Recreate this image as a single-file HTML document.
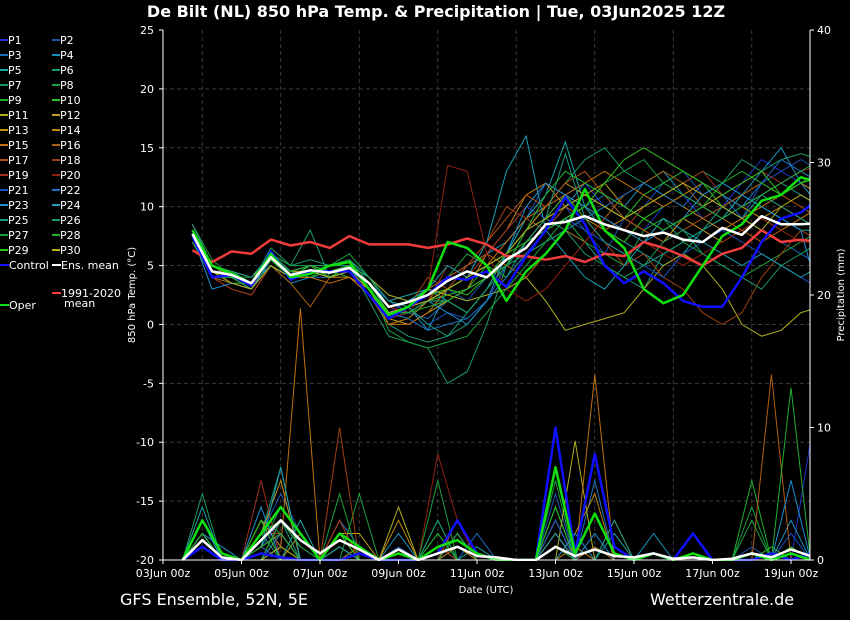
<!DOCTYPE html>
<html><head><meta charset="utf-8"><style>
body{margin:0;background:#000;width:850px;height:620px;overflow:hidden;font-family:"Liberation Sans","DejaVu Sans",sans-serif}
svg{display:block}
</style></head><body>
<svg id="c" width="850" height="620" xmlns="http://www.w3.org/2000/svg">
<rect width="850" height="620" fill="#000"/>
<text x="436" y="17" fill="#fff" font-size="16" font-weight="bold" text-anchor="middle" font-family="DejaVu Sans, sans-serif">De Bilt  (NL)  850 hPa Temp. &amp; Precipitation | Tue, 03Jun2025 12Z</text>
<text x="120" y="605" fill="#fff" font-size="16" font-family="DejaVu Sans, sans-serif">GFS Ensemble, 52N, 5E</text>
<text x="650" y="605" fill="#fff" font-size="16" font-family="DejaVu Sans, sans-serif">Wetterzentrale.de</text>
<g id="grid"></g>
<g id="series" clip-path="url(#clip)"></g>
<defs><clipPath id="clip"><rect x="163" y="30" width="647" height="531"/></clipPath></defs>
<g id="axes"></g>
<g id="legend"></g>
</svg>
<script>
const NS="http://www.w3.org/2000/svg";
const dayLabels=["03Jun 00z","05Jun 00z","07Jun 00z","09Jun 00z","11Jun 00z","13Jun 00z","15Jun 00z","17Jun 00z","19Jun 00z"];
const tempTicks=[25,20,15,10,5,0,-5,-10,-15,-20];
const precipTicks=[0,10,20,30,40];
const hours=[18,30,42,54,66,78,90,102,114,126,138,150,162,174,186,198,210,222,234,246,258,270,282,294,306,318,330,342,354,366,378,390,402];
const precipHours=[12,24,36,48,60,72,84,96,108,120,132,144,156,168,180,192,204,216,228,240,252,264,276,288,300,312,324,336,348,360,372,384,396];
const ensMean=[7.7,4.5,4.2,3.5,5.7,4.2,4.6,4.4,4.8,3.5,1.5,1.9,2.5,3.7,4.5,4.0,5.5,6.5,8.5,8.7,9.2,8.5,8.0,7.5,7.8,7.2,7.0,8.2,7.6,9.2,8.5,8.5,8.6];
const control=[7.5,4,4.2,3.3,6.2,3.8,4.5,4.5,4.5,2.5,0.5,1.5,2.5,4,3.8,4.5,3.2,5.8,8,10.8,8.5,5,3.5,4.5,3.5,2,1.5,1.5,4,7,9,9.5,10.8];
const oper=[8,5,4.3,3.5,6,4,4.3,5,5.3,3,0.8,1.5,3,7,6.5,5,2,4.5,6,8,11.5,8,6.5,3,1.8,2.5,5,7.5,8.5,10.5,11,12.5,12];
const clim=[6.3,5.3,6.2,6,7.2,6.7,7,6.5,7.5,6.8,6.8,6.8,6.5,6.8,7.3,6.8,5.8,5.8,5.5,5.8,5.3,6,5.8,7,6.5,5.8,5,6,6.5,8,7,7.2,7];
const P1=[8,5,4,3.5,6,4,4.5,4,5,3.5,1,2,3,4,5,6,8,10,9,11,12,10,9,8,10,11,9,10,12,14,13,12,11];
const P2=[7.5,4,4,3,5.5,4,5,4.5,4.5,3,0.5,1,2,3,2,4,6,9,12,10,8,6,9,10,12,13,11,10,9,12,13,14,13];
const P3=[8,4.5,4.5,4,6,4.5,4,4,5,4,2,1,0.5,2,1,3,5,7,8,9,10,11,9,8,7,9,10,11,9,8,7,6,5];
const P4=[8.5,5,4,3.5,5,3.5,4,4.5,4.5,3,1,1.5,-0.5,3,5,6,7,9,8,10,12,11,10,12,13,11,10,9,11,13,15,12,10];
const P5=[7,4,3.5,3,5,4,5,5,5.5,4,2,2.5,3,2,1,3,6,9,11,15.5,10,8,7,6,5,6,8,9,11,10,9,8,8];
const P6=[7.5,4.5,4,3,6,5,5.5,5,5,3,0,-1,-1.5,-1,0,2,4,7,9,8,7,5,4,3,6,7,8,9,10,11,12,11,10];
const P7=[8,5,4.5,3.5,6.5,5,8,4,5,2,-1,-1.5,-2,-5,-4,0,5,8,10,12,14,15,13,12,11,12,13,12,14,13,14,14.5,14];
const P8=[8.5,5.5,4,4,5.5,4.5,4,5,6,4,1.5,2,3,4,6,5,4,6,8,9,7,6,5,8,9,7,6,5,4,5,6,7,8];
const P9=[7,4,4,3.5,5,4,4,4.5,4,3,1,1.5,2,2.5,3,5,4,6,7,8,9,10,9,11,12,13,12,11,10,11,12,13,12];
const P10=[7.5,4.5,3.5,3.5,5,4,5,4,4.5,3.5,1,0.5,2,3,2.5,4,6,8,9,11,9,8,7,9,10,11,12,10,11,12,11,12,13];
const P11=[8,5,4.5,4,5.5,4,4.5,4.5,5,4,2.5,2,3,2.5,2,2.5,3,4,2,-0.5,0,0.5,1,3,5,6,5,3,0,-1,-0.5,1,1.5];
const P12=[7,4.5,4,3,5.5,4.5,4.5,4,4.5,3,0.5,0,1,2,3,4,5,7,9,10,11,12,10,9,8,9,10,11,10,9,8,9,10];
const P13=[8,5,4,3.5,6,4.5,5,4.5,5,3.5,1.5,1,2,3,4,5,6,8,10,12,11,10,9,8,7,9,8,7,8,9,10,9,8];
const P14=[7.5,4,3,2.5,5,4,4.5,4,4,3,0,0.5,2,2,3,6,8,11,12,10,9,8,9,10,11,10,9,8,9,10,11,12,11];
const P15=[8,4.5,4,3.5,5.5,4,4,3.5,4,2.5,0,0,1,3,4,5,7,9,10,11,12,13,12,11,10,11,12,11,10,11,12,13,12];
const P16=[7,4,3.5,3,5,3.5,1.5,4,4.5,3,1,1.5,2,4,5,6,5,4,6,8,7,9,11,12,13,12,10,9,8,7,8,9,10];
const P17=[8.5,5,4,3.5,6,4.5,5,4.5,5,3.5,1,1.5,3,4,5,7,9,11,10,12,13,11,9,8,7,8,9,10,11,12,11,10,9];
const P18=[7.5,4.5,3.5,3,6,4,4.5,4,4.5,3,0.5,1.5,4,3,5,7,10,9,8,10,9,7,5,6,4,3,1,0,1,4,6,8,7];
const P19=[7,4,3,2.5,5,4,4.5,4,4.5,3,0.5,1,2,5,4,6,8,10,12,11,10,9,8,10,11,12,13,11,12,13,12,13,13.5];
const P20=[8,4.5,4,3.5,5.5,4.5,5,4.5,5,3.5,1.5,1,3,13.5,13,6,3,2,3,5,7,9,8,7,6,5,6,7,8,9,8,7,7];
const P21=[7.5,5,4.5,4,6,4.5,5,4.5,5,3.5,2,1.5,0,1,0.5,2,5,6,8,9,8,7,6,5,4,6,7,8,7,6,5,4,3];
const P22=[8,4.5,4,3.5,5.5,4,4.5,4.5,5,3,1,0.5,-0.5,0,0.5,2,4,6,7,8,9,10,11,12,11,10,12,11,10,12,14,13,12];
const P23=[7.5,3,3.5,3,5.5,4,4.5,4,4.5,3.5,1,1,2,1,0,2,6,10,12,11,10,9,8,7,8,9,11,12,11,10,9,8,2];
const P24=[8,4.5,4,3.5,5,4,4.5,4.5,5,3.5,1.5,2,3,5,4,7,13,16,8,6,4,3,5,7,9,8,7,6,5,6,5,4,5];
const P25=[8.5,5,4.5,4,6,4.5,5,4.5,5,4,2,1.5,0,-1,1,3,5,7,9,14.5,9,7,6,5,6,7,8,10,9,11,10,9,8];
const P26=[7,4,4,3,5,4,4.5,4,4.5,3,1,1,2,2,1,3,5,6,7,8,6,5,4,5,7,8,6,5,4,3,5,6,7];
const P27=[8,5,4.5,3.5,6,5,5,5,5.5,3.5,-0.5,-1.5,-2,-1.5,-1,1,3,5,7,9,10,12,13,14,12,11,10,9,10,11,12,13,14];
const P28=[7.5,4.5,4,3.5,5.5,4.5,5,4.5,5,3.5,1,1,1.5,2,3,4,5,8,11,13,12,11,10,9,8,9,10,12,13,12,11,12,13];
const P29=[8,4.5,4,3.5,5.5,4,4.5,4,5,3,0.5,1.5,2.5,3,4,5,6,7,8,9,10,12,14,15,14,13,12,11,12,13,11,12,12.5];
const P30=[7.5,4.5,3.5,3,5,4,4.5,4,4.5,3,1,1.5,2,3,4,5,6,8,9,10,11,10,9,10,11,12,11,10,9,8,10,11,10];
const members=[P1,P2,P3,P4,P5,P6,P7,P8,P9,P10,P11,P12,P13,P14,P15,P16,P17,P18,P19,P20,P21,P22,P23,P24,P25,P26,P27,P28,P29,P30];
const meanPrecip=[0,1.5,0.2,0,1.5,3,1.5,0.5,1.5,0.8,0,0.8,0,0.5,1,0.3,0.2,0,0,1,0.3,0.8,0.3,0.2,0.5,0.1,0.2,0,0.1,0.5,0.2,0.8,0.3];
const controlPrecip=[0,1,0,0,0.5,0.2,0,0,0,0.5,0,0,0,0.5,3,0.5,0,0,0,10,0.5,8,1,0,0.5,0,2,0,0,0,0.5,0,0.5];
const operPrecip=[0,3,0.5,0,2,4,2,0,2,1,0,0.5,0,1,1.5,0.5,0,0,0,7,0.5,3.5,0.5,0,0.5,0,0.5,0,0,0.5,0,0.5,0];
const R1=[0,2,0,0,1,3,1,0,2,1,0,0,0,0,1,0,0,0,0,3,0,1,0,0,0,0,0,0,0,0,0,0,9];
const R2=[0,1,0,0,2,5,2,0,1,0,0,1,0,0,0,0,0,0,0,5,0,0,0,0,0,0,0,0,0,1,0,0,0];
const R3=[0,3,0,0,0,2,0,0,3,1,0,0,0,1,0,0,0,0,0,2,0,6,0,0,0,0,0,0,0,0,0,0,0];
const R4=[0,2,1,0,3,1,0,0,1,0,0,2,0,0,2,0,0,0,0,4,0,1,0,0,2,0,0,0,0,0,0,3,0];
const R5=[0,4,0,0,1,0,3,0,0,1,0,0,0,3,0,1,0,0,0,0,0,0,2,0,0,0,0,0,0,0,0,0,0];
const R6=[0,1,0,0,2,7,0,0,2,0,0,0,0,0,1,0,0,0,0,3,0,0,0,0,0,0,0,0,0,0,0,0,0];
const R7=[0,5,0,0,1,4,2,0,1,0,0,0,0,3,0,0,0,0,0,1,0,2,0,0,0,0,0,0,0,0,0,0,0];
const R8=[0,2,0,0,3,2,0,0,0,5,0,0,0,0,1,0,0,0,0,6,0,0,0,0,0,0,0,0,0,4,0,0,0];
const R9=[0,3,0,0,0,1,0,0,1,0,0,0,0,2,0,0,0,0,0,2,0,0,0,0,0,0,0,0,0,6,0,0,0];
const R10=[0,1,0,0,2,3,1,0,0,0,0,0,0,0,2,0,0,0,0,4,0,1,0,0,0,0,0,0,0,0,1,0,0];
const R11=[0,2,0,0,1,0,2,0,3,0,0,0,0,0,0,0,0,0,0,0,9,0,0,0,0,0,0,0,0,0,0,0,0];
const R12=[0,1,0,0,0,2,0,0,2,2,0,0,0,1,0,0,0,0,0,3,0,0,0,0,0,0,0,0,0,0,0,0,0];
const R13=[0,0,0,0,2,6,0,0,0,1,0,3,0,0,2,0,0,0,0,0,1,0,3,0,0,0,0,0,0,0,0,0,0];
const R14=[0,2,0,0,1,2,0,0,1,0,0,0,0,0,0,0,0,0,0,0,2,5,0,0,0,0,0,0,0,0,0,0,0];
const R15=[0,1,0,0,3,1,19,0,1,0,0,0,0,0,1,0,0,0,0,2,0,14,0,0,0,0,0,0,0,0,0,0,0];
const R16=[0,2,0,0,1,0,0,0,2,0,0,0,0,0,0,0,0,0,0,1,0,0,0,0,0,0,0,0,0,0,14,0,0];
const R17=[0,1,0,0,2,2,0,0,1,0,0,0,0,0,3,0,0,0,0,2,0,1,0,0,0,0,0,0,0,0,0,0,0];
const R18=[0,0,0,0,1,0,0,0,10,0,0,0,0,0,0,0,0,0,0,1,0,0,0,0,0,0,0,0,0,0,0,0,0];
const R19=[0,1,0,0,6,0,0,0,3,0,0,0,0,1,0,0,0,0,0,0,0,0,0,0,0,0,0,0,0,0,0,0,0];
const R20=[0,0,0,0,0,1,0,0,0,0,0,0,0,8,3,0,0,0,0,0,0,0,0,0,0,0,0,0,0,0,0,0,0];
const R21=[0,2,0,0,1,0,0,0,0,0,0,0,0,0,0,0,0,0,0,3,0,0,0,0,0,0,0,0,0,0,0,2,0];
const R22=[0,1,0,0,0,2,0,0,1,0,0,0,0,0,0,2,0,0,0,0,0,2,0,0,0,0,0,0,0,0,0,0,0];
const R23=[0,3,0,0,4,0,0,0,1,0,0,0,0,0,0,0,0,0,0,0,2,0,0,0,0,0,0,0,0,0,0,6,0];
const R24=[0,1,0,0,1,7,0,0,0,0,0,0,0,0,0,0,0,0,0,2,0,0,0,0,0,0,0,0,0,0,0,0,0];
const R25=[0,2,0,0,0,3,0,0,1,0,0,0,0,0,0,0,0,0,0,0,0,0,3,0,0,0,0,0,0,0,0,0,0];
const R26=[0,1,0,0,2,0,0,0,0,0,0,0,0,0,2,0,0,0,0,0,0,0,0,0,0,0,0,0,0,0,0,0,0];
const R27=[0,0,0,0,0,3,1,0,5,0,0,0,0,6,0,0,0,0,0,1,0,0,0,0,0,0,0,0,0,3,0,0,0];
const R28=[0,2,0,0,1,2,0,0,0,0,0,0,0,2,0,0,0,0,0,0,0,0,0,0,0,0,0,0,0,0,0,13,0];
const R29=[0,1,0,0,3,0,0,0,2,0,0,0,0,0,0,0,0,0,0,0,0,0,0,0,0,0,0,0,0,0,0,1,0];
const R30=[0,1,0,0,0,1,0,0,0,0,0,4,0,0,0,0,0,0,0,0,0,0,0,0,0,0,0,0,0,0,0,0,0];
const memberPrecip=[R1,R2,R3,R4,R5,R6,R7,R8,R9,R10,R11,R12,R13,R14,R15,R16,R17,R18,R19,R20,R21,R22,R23,R24,R25,R26,R27,R28,R29,R30];

const colors=["#2233cc","#1a4fb0","#1a6fbf","#1a90c0","#1aa5a5","#1a9a7a","#1a9a60","#1aa040","#20b030","#30c020","#b0b020","#c0a010","#c09010","#c08010","#c07010","#b06010","#b05010","#a04010","#a03020","#902010","#1a50c0","#1a70c0","#1a90d0","#1aa0b0","#1a9a80","#1a9a60","#1aa040","#20b030","#30c020","#b0b020"];
const X0=163,X1=810,Y0=30,Y1=560,DAY=39.25;
function xs(h){return X0+h/24*DAY;}
function yt(v){return Y0+(25-v)*(Y1-Y0)/45;}
function yp(p){return Y1-p*(Y1-Y0)/40;}
function mk(tag,attrs,parent){const e=document.createElementNS(NS,tag);for(const k in attrs)e.setAttribute(k,attrs[k]);parent.appendChild(e);return e;}
function pts(arr,fy,hr){return arr.map((v,i)=>xs(hr[i]).toFixed(1)+","+fy(v).toFixed(1)).join(" ");}
const grid=document.getElementById("grid"),ser=document.getElementById("series"),ax=document.getElementById("axes"),leg=document.getElementById("legend");
for(let v=20;v>-20;v-=5){const l=mk("line",{x1:X0,x2:X1,y1:yt(v),y2:yt(v),stroke:"#3a3a3a","stroke-dasharray":"4,3","stroke-width":1},grid);

}
for(let d=1;d<17;d+=2){const l=mk("line",{x1:xs(d*24),x2:xs(d*24),y1:Y0,y2:Y1,stroke:"#3a3a3a","stroke-dasharray":"4,3","stroke-width":1},grid);

}
memberPrecip.forEach((a,i)=>{const p=mk("polyline",{points:pts(a,yp,precipHours),fill:"none",stroke:colors[i],"stroke-width":1},ser);

});
members.forEach((a,i)=>{const p=mk("polyline",{points:pts(a,yt,hours),fill:"none",stroke:colors[i],"stroke-width":1},ser);

});
const mains=[[clim,yt,hours,"#f03c3c","climatology-line"],[controlPrecip,yp,precipHours,"#1010ff","control-precip"],[operPrecip,yp,precipHours,"#10e010","oper-precip"],[meanPrecip,yp,precipHours,"#ffffff","mean-precip"],[control,yt,hours,"#1010ff","control-temp"],[oper,yt,hours,"#10e010","oper-temp"],[ensMean,yt,hours,"#ffffff","ens-mean-temp"]];
mains.forEach(m=>{const p=mk("polyline",{points:pts(m[0],m[1],m[2]),fill:"none",stroke:m[3],"stroke-width":2.5,"stroke-linejoin":"round"},ser);

});
[[X0,Y0,X0,Y1],[X1,Y0,X1,Y1],[X0,Y1,X1,Y1]].forEach(c=>{const l=mk("line",{x1:c[0],y1:c[1],x2:c[2],y2:c[3],stroke:"#fff","stroke-width":1},ax);

});
tempTicks.forEach(v=>{const t=mk("text",{x:154,y:yt(v)+4,fill:"#fff","font-size":11,"text-anchor":"end","font-family":"DejaVu Sans, sans-serif"},ax);t.textContent=v;


mk("line",{x1:X0-4,x2:X0,y1:yt(v),y2:yt(v),stroke:"#fff"},ax);});
precipTicks.forEach(v=>{const t=mk("text",{x:817,y:yp(v)+4,fill:"#fff","font-size":11,"font-family":"DejaVu Sans, sans-serif"},ax);t.textContent=v;


mk("line",{x1:X1,x2:X1+4,y1:yp(v),y2:yp(v),stroke:"#fff"},ax);});
dayLabels.forEach((s,i)=>{const x=xs(i*48);const t=mk("text",{x:x,y:577,fill:"#fff","font-size":11,"text-anchor":"middle","font-family":"DejaVu Sans, sans-serif"},ax);t.textContent=s;


mk("line",{x1:x,x2:x,y1:Y1,y2:Y1+4,stroke:"#fff"},ax);});
let t=mk("text",{x:486,y:593,fill:"#fff","font-size":10,"text-anchor":"middle","font-family":"DejaVu Sans, sans-serif"},ax);t.textContent="Date (UTC)";


t=mk("text",{x:0,y:0,fill:"#fff","font-size":10,"text-anchor":"middle","font-family":"DejaVu Sans, sans-serif",transform:"translate(135,295) rotate(-90)"},ax);t.textContent="850 hPa Temp. (°C)";


t=mk("text",{x:0,y:0,fill:"#fff","font-size":10,"text-anchor":"middle","font-family":"DejaVu Sans, sans-serif",transform:"translate(844,295) rotate(-90)"},ax);t.textContent="Precipitation (mm)";


for(let i=0;i<30;i++){const col=i%2,row=Math.floor(i/2);const x=col?52:0,y=40+row*15;
const g=mk("g",{},leg);


mk("line",{x1:x,x2:x+8,y1:y,y2:y,stroke:colors[i],"stroke-width":2},g);
const tx=mk("text",{x:x+8,y:y+4,fill:"#fff","font-size":11,"font-family":"DejaVu Sans, sans-serif"},g);tx.textContent="P"+(i+1);}
const extra=[[0,265,"#1010ff","Control","legend-entry-control"],[52,265,"#ffffff","Ens. mean","legend-entry-ens-mean"],[0,305,"#10e010","Oper","legend-entry-oper"],[52,293,"#f03c3c","1991-2020","legend-entry-climatology"]];
extra.forEach(e=>{const g=mk("g",{},leg);


mk("line",{x1:e[0],x2:e[0]+9,y1:e[1],y2:e[1],stroke:e[2],"stroke-width":2},g);
const tx=mk("text",{x:e[0]+9,y:e[1]+4,fill:"#fff","font-size":11,"font-family":"DejaVu Sans, sans-serif"},g);tx.textContent=e[3];});
t=mk("text",{x:64,y:307,fill:"#fff","font-size":11,"font-family":"DejaVu Sans, sans-serif"},leg);t.textContent="mean";


</script>
</body></html>
